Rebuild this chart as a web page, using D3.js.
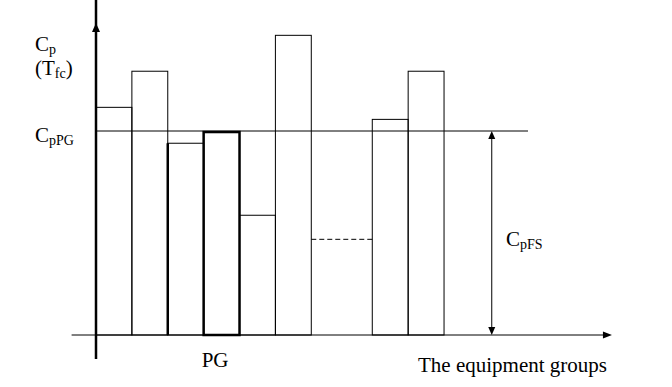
<!DOCTYPE html>
<html>
<head>
<meta charset="utf-8">
<script src="https://cdn.jsdelivr.net/npm/d3@7"></script>
<style>
  body { margin: 0; background: #fff; }
</style>
</head>
<body>
<div id="chart"></div>
<script>
// equipment groups, left to right; "gap" stands for the groups not drawn
const groups = ["G1", "G2", "G3", "PG", "G5", "G6", "gap", "G8", "G9"];
// group capability in units of CpPG (CpPG = 1)
const capability = [1.116, 1.293, 0.94, 0.995, 0.587, 1.469, 0.469, 1.057, 1.293];
// relative width of each group on the x axis
const groupWidth = [1, 1, 1, 1, 1, 1, 1.7, 1, 1];
const cpPG = 1;

const width = 672, height = 387;
const serif = "'Liberation Serif', 'Times New Roman', Tinos, 'DejaVu Serif', serif";

const svg = d3.select("#chart").append("svg")
    .attr("width", width)
    .attr("height", height);

svg.append("rect").attr("width", width).attr("height", height).attr("fill", "#fff");

// group units -> pixels
let x = d3.scaleLinear().domain([0, 1]).range([96, 131.88]);
// capability -> pixels
let y = d3.scaleLinear().domain([0, 1]).range([335, 131]);

// start of each group
let starts = [0];
groupWidth.forEach((w, i) => starts.push(starts[i] + w));

let bars = groups.map((g, i) => ({
    name: g,
    x0: starts[i],
    x1: starts[i + 1],
    value: capability[i]
}));

const g = svg.append("g");

// ordinary bars
g.selectAll(".bar")
    .data(bars.filter(d => d.name !== "gap" && d.name !== "PG"))
    .enter().append("rect")
    .attr("class", "bar")
    .attr("x", d => x(d.x0))
    .attr("y", d => y(d.value))
    .attr("width", d => x(d.x1) - x(d.x0))
    .attr("height", d => y(0) - y(d.value))
    .attr("fill", "none")
    .attr("stroke", "#000")
    .attr("stroke-width", 1);

// missing groups: dashed level only
let gap = bars.find(d => d.name === "gap");
g.append("line")
    .attr("x1", x(gap.x0)).attr("x2", x(gap.x1))
    .attr("y1", y(gap.value)).attr("y2", y(gap.value))
    .attr("stroke", "#000")
    .attr("stroke-width", 1)
    .attr("stroke-dasharray", "5,3");

// CpPG level line
g.append("line")
    .attr("x1", x(0)).attr("x2", x(12.04))
    .attr("y1", y(cpPG)).attr("y2", y(cpPG))
    .attr("stroke", "#000")
    .attr("stroke-width", 1);

// bold left side of the group next to PG
let pgIndex = groups.indexOf("PG");
let prev = bars[pgIndex - 1];
g.append("line")
    .attr("x1", x(prev.x0)).attr("x2", x(prev.x0))
    .attr("y1", y(prev.value)).attr("y2", y(0))
    .attr("stroke", "#000")
    .attr("stroke-width", 2.5);

// PG bar, bold
let pg = bars[pgIndex];
g.append("rect")
    .attr("x", x(pg.x0))
    .attr("y", y(pg.value))
    .attr("width", x(pg.x1) - x(pg.x0))
    .attr("height", y(0) - y(pg.value))
    .attr("fill", "none")
    .attr("stroke", "#000")
    .attr("stroke-width", 2.5);

// axes
g.append("line")
    .attr("x1", x(-0.68)).attr("x2", x(14.2))
    .attr("y1", y(0)).attr("y2", y(0))
    .attr("stroke", "#000").attr("stroke-width", 1);
g.append("path")
    .attr("d", `M${x(14.38)},${y(0)} L${x(14.38) - 9},${y(0) - 3.5} L${x(14.38) - 9},${y(0) + 3.5} Z`)
    .attr("fill", "#000");

g.append("line")
    .attr("x1", x(0)).attr("x2", x(0))
    .attr("y1", y(1.45 + 0.3)).attr("y2", y(-0.118))
    .attr("stroke", "#000").attr("stroke-width", 2.5);
g.append("path")
    .attr("d", `M${x(0)},23 L${x(0) - 4},32 L${x(0) + 4},32 Z`)
    .attr("fill", "#000");

// CpFS double arrow
let ax = x(11.03);
g.append("line")
    .attr("x1", ax).attr("x2", ax)
    .attr("y1", y(cpPG) + 4).attr("y2", y(0) - 4)
    .attr("stroke", "#000").attr("stroke-width", 1);
g.append("path")
    .attr("d", `M${ax},${y(cpPG)} L${ax - 3.5},${y(cpPG) + 8} L${ax + 3.5},${y(cpPG) + 8} Z`)
    .attr("fill", "#000");
g.append("path")
    .attr("d", `M${ax},${y(0)} L${ax - 3.5},${y(0) - 8} L${ax + 3.5},${y(0) - 8} Z`)
    .attr("fill", "#000");

// labels
function subLabel(px, py, main, sub, pre, post) {
    let t = svg.append("text")
        .attr("x", px).attr("y", py)
        .attr("font-family", serif)
        .attr("font-size", 21);
    if (pre) t.append("tspan").text(pre);
    t.append("tspan").text(main);
    t.append("tspan").attr("dy", 3).attr("font-size", 14).text(sub);
    if (post) t.append("tspan").attr("dy", -3).text(post);
    return t;
}

subLabel(35, 51, "C", "p");
subLabel(35, 75, "T", "fc", "(", ")");
subLabel(35, y(cpPG) + 11, "C", "pPG");
subLabel(506, 246, "C", "pFS");

svg.append("text")
    .attr("x", x(pg.x0) - 2)
    .attr("y", 367)
    .attr("font-family", serif)
    .attr("font-size", 21)
    .text("PG");

svg.append("text")
    .attr("x", 607)
    .attr("y", 371.5)
    .attr("text-anchor", "end")
    .attr("font-family", serif)
    .attr("font-size", 21)
    .text("The equipment groups");
</script>
</body>
</html>
